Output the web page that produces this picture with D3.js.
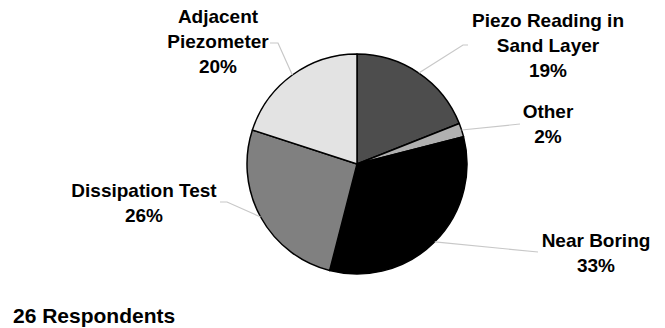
<!DOCTYPE html>
<html>
<head>
<meta charset="utf-8">
<script src="https://cdn.jsdelivr.net/npm/d3@7"></script>
<style>
  html, body { margin: 0; padding: 0; background: #fff; }
  svg { display: block; }
  text { font-family: "Liberation Sans", Arial, sans-serif; font-weight: bold; fill: #000; }
</style>
</head>
<body>
<svg id="chart" width="665" height="328"></svg>
<script>
const categories = ["Piezo Reading in Sand Layer", "Other", "Near Boring", "Dissipation Test", "Adjacent Piezometer"];
const values = [19, 2, 33, 26, 20];
const labelLines = [["Piezo Reading in", "Sand Layer", "19%"], ["Other", "2%"], ["Near Boring", "33%"], ["Dissipation Test", "26%"], ["Adjacent", "Piezometer", "20%"]];
const fills = ["#4d4d4d", "#b0b0b0", "#000000", "#808080", "#e3e3e3"];
const footnote = "26 Respondents";

// layout
const cx = 357, cy = 164, R = 110;
const labelPos = [
  {x: 548, y: 27, leader: [[463, 45], [468, 45]]},
  {x: 548, y: 118, leader: [[520, 124]]},
  {x: 596, y: 247, leader: [[538, 252]]},
  {x: 144, y: 197, leader: [[227, 202], [220, 202]]},
  {x: 218, y: 23, leader: [[278, 43], [270, 43]]}
];
const lineH = 25;

const svg = d3.select("#chart");
const data = categories.map((c, i) => ({name: c, value: values[i], i}));
const pie = d3.pie().sort(null).value(d => d.value).startAngle(0).endAngle(2 * Math.PI);
const arcs = pie(data);
const arc = d3.arc().innerRadius(0).outerRadius(R);

const g = svg.append("g").attr("transform", `translate(${cx},${cy})`);

// leader lines
arcs.forEach((a, i) => {
  const mid = (a.startAngle + a.endAngle) / 2;
  const start = [cx + R * Math.sin(mid), cy - R * Math.cos(mid)];
  const pts = [start].concat(labelPos[i].leader);
  svg.append("path")
    .attr("d", d3.line()(pts))
    .attr("fill", "none")
    .attr("stroke", "#c8c8c8")
    .attr("stroke-width", 1.2);
});

g.selectAll("path.slice")
  .data(arcs)
  .join("path")
  .attr("class", "slice")
  .attr("d", arc)
  .attr("fill", (d, i) => fills[i])
  .attr("stroke", "#000")
  .attr("stroke-width", 1.5)
  .attr("stroke-linejoin", "round");

// labels
arcs.forEach((a, i) => {
  const t = svg.append("text")
    .attr("text-anchor", "middle")
    .attr("font-size", 19);
  labelLines[i].forEach((ln, j) => {
    t.append("tspan").attr("x", labelPos[i].x).attr("y", labelPos[i].y + j * lineH).text(ln);
  });
});

svg.append("text")
  .attr("x", 13).attr("y", 323)
  .attr("font-size", 21)
  .text(footnote);
</script>
</body>
</html>
